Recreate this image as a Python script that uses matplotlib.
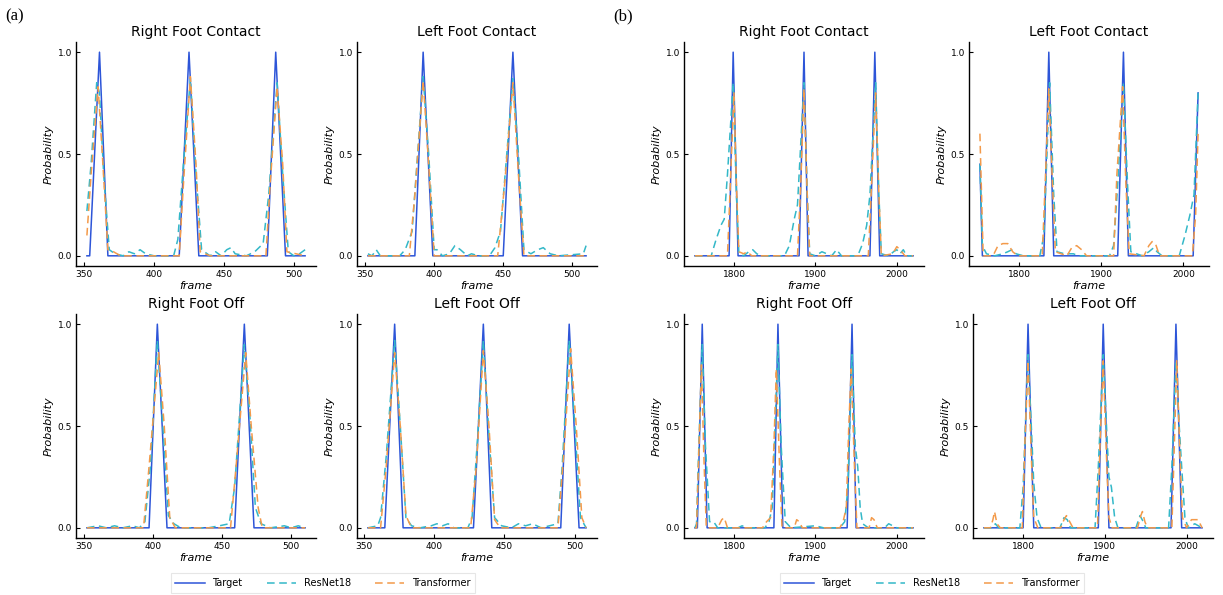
import matplotlib
matplotlib.use("Agg")
import matplotlib.pyplot as plt
from matplotlib.lines import Line2D

# ---- data: (frame, probability) ----
# panel (a)
A_RFC_T = [(352,0),(354,0),(361,1),(367,0),(418,0),(425,1),(432,0),(481,0),(487,1),(494,0),(508,0)]
A_RFC_R = [(352,0.22),(355,0.45),(359,0.85),(361,0.8),(364,0.4),(368,0.03),(372,0.01),(378,0.0),(382,0.02),
           (386,0.01),(390,0.03),(394,0.01),(400,0.0),(414,0.0),(417,0.08),(421,0.45),(426,0.87),(430,0.4),
           (434,0.03),(440,0.0),(444,0.02),(448,0.0),(452,0.03),(455,0.04),(458,0.01),(466,0.0),(472,0.02),
           (478,0.06),(482,0.3),(488,0.85),(492,0.4),(496,0.02),(500,0.0),(504,0.01),(508,0.03)]
A_RFC_X = [(352,0.1),(355,0.4),(360,0.83),(363,0.5),(367,0.03),(371,0.02),(376,0.0),(418,0.0),(421,0.35),
           (426,0.88),(430,0.45),(433,0.02),(440,0.0),(480,0.0),(483,0.35),(488,0.83),(492,0.45),(495,0.02),(508,0.0)]

A_LFC_T = [(352,0),(386,0),(392,1),(399,0),(450,0),(457,1),(464,0),(510,0)]
A_LFC_R = [(352,0.01),(355,0.0),(358,0.03),(361,0.0),(375,0.0),(379,0.03),(384,0.12),(392,0.88),(396,0.5),
           (400,0.03),(402,0.03),(406,0.0),(411,0.01),(415,0.05),(419,0.03),(424,0.0),(427,0.01),(432,0.0),
           (440,0.0),(444,0.04),(448,0.12),(457,0.87),(461,0.5),(465,0.03),(470,0.01),(475,0.03),(479,0.04),
           (484,0.01),(490,0.0),(508,0.01),(510,0.05)]
A_LFC_X = [(352,0.0),(382,0.0),(386,0.3),(392,0.86),(396,0.45),(400,0.0),(446,0.0),(451,0.35),(457,0.85),
           (461,0.4),(465,0.0),(510,0.0)]

A_RFO_T = [(352,0),(397,0),(403,1),(410,0),(459,0),(466,1),(473,0),(510,0)]
A_RFO_R = [(352,0.0),(360,0.01),(366,0.0),(372,0.01),(378,0.0),(385,0.01),(390,0.0),(394,0.03),(398,0.3),
           (403,0.92),(407,0.5),(411,0.06),(415,0.02),(420,0.0),(440,0.0),(448,0.01),(455,0.02),(459,0.2),
           (466,0.9),(470,0.55),(474,0.1),(478,0.02),(485,0.0),(495,0.01),(500,0.0),(505,0.01),(510,0.0)]
A_RFO_X = [(352,0.0),(393,0.0),(397,0.3),(404,0.86),(408,0.5),(412,0.05),(416,0.0),(456,0.0),(460,0.3),
           (467,0.86),(471,0.5),(476,0.1),(479,0.0),(510,0.0)]

A_LFO_T = [(353,0),(365,0),(372,1),(378,0),(428,0),(435,1),(441,0),(490,0),(496,1),(503,0),(508,0)]
A_LFO_R = [(353,0.0),(360,0.01),(362,0.05),(366,0.35),(372,0.92),(376,0.5),(380,0.05),(384,0.01),(390,0.0),
           (398,0.01),(402,0.02),(406,0.01),(410,0.02),(414,0.0),(424,0.0),(427,0.05),(431,0.45),(435,0.92),
           (439,0.45),(443,0.05),(448,0.01),(455,0.0),(460,0.02),(465,0.01),(470,0.02),(476,0.0),(488,0.02),
           (491,0.3),(496,0.92),(500,0.5),(504,0.05),(508,0.0)]
A_LFO_X = [(353,0.0),(362,0.0),(366,0.3),(372,0.86),(376,0.5),(380,0.06),(384,0.0),(426,0.0),(430,0.3),
           (435,0.87),(439,0.5),(443,0.04),(447,0.0),(488,0.0),(492,0.35),(497,0.88),(501,0.5),(505,0.05),(508,0.0)]

# panel (b)
B_RFC_T = [(1752,0),(1794,0),(1799,1),(1805,0),(1880,0),(1886,1),(1891,0),(1967,0),(1973,1),(1979,0),(2020,0)]
B_RFC_R = [(1752,0.0),(1772,0.0),(1778,0.08),(1784,0.15),(1788,0.18),(1792,0.4),(1799,0.85),(1803,0.3),
           (1806,0.01),(1812,0.0),(1818,0.02),(1823,0.03),(1828,0.01),(1834,0.0),(1862,0.0),(1868,0.05),
           (1874,0.18),(1878,0.25),(1886,0.85),(1890,0.3),(1893,0.01),(1900,0.0),(1908,0.02),(1914,0.01),
           (1920,0.0),(1926,0.03),(1932,0.0),(1952,0.0),(1958,0.06),(1963,0.15),(1967,0.3),(1974,0.85),
           (1978,0.3),(1981,0.01),(1990,0.0),(1996,0.02),(2000,0.03),(2004,0.01),(2008,0.03),(2012,0.0),(2020,0.0)]
B_RFC_X = [(1752,0.0),(1792,0.0),(1795,0.3),(1800,0.8),(1803,0.35),(1806,0.02),(1812,0.01),(1816,0.02),
           (1822,0.0),(1878,0.0),(1882,0.35),(1886,0.82),(1890,0.3),(1893,0.0),(1965,0.0),(1969,0.35),
           (1974,0.8),(1978,0.3),(1981,0.0),(1995,0.01),(2000,0.045),(2004,0.03),(2010,0.0),(2020,0.0)]

B_LFC_T = [(1752,0.45),(1755,0),(1830,0),(1836,1),(1842,0),(1920,0),(1927,1),(1933,0),(2012,0),(2018,0.8)]
B_LFC_R = [(1752,0.45),(1755,0.05),(1760,0.01),(1770,0.0),(1780,0.01),(1786,0.02),(1791,0.03),(1796,0.01),
           (1805,0.0),(1825,0.0),(1830,0.1),(1837,0.85),(1842,0.3),(1846,0.02),(1855,0.01),(1866,0.01),
           (1872,0.0),(1910,0.0),(1915,0.05),(1920,0.35),(1927,0.85),(1932,0.35),(1936,0.02),(1950,0.0),
           (1958,0.02),(1964,0.04),(1968,0.02),(1974,0.0),(1995,0.0),(2002,0.1),(2008,0.2),(2013,0.3),(2018,0.8)]
B_LFC_X = [(1752,0.6),(1756,0.0),(1768,0.0),(1774,0.05),(1780,0.06),(1786,0.06),(1792,0.02),(1798,0.0),
           (1828,0.0),(1832,0.4),(1836,0.82),(1840,0.4),(1844,0.02),(1858,0.0),(1864,0.04),(1870,0.05),
           (1876,0.03),(1882,0.0),(1915,0.0),(1919,0.4),(1926,0.83),(1930,0.35),(1934,0.01),(1952,0.0),
           (1958,0.05),(1962,0.07),(1966,0.06),(1971,0.0),(2011,0.0),(2015,0.2),(2018,0.6)]

B_RFO_T = [(1752,0),(1755,0),(1761,1),(1767,0),(1849,0),(1854,1),(1860,0),(1939,0),(1945,1),(1950,0),(2020,0)]
B_RFO_R = [(1752,0.0),(1754,0.02),(1756,0.3),(1761,0.9),(1765,0.4),(1768,0.18),(1770,0.03),(1775,0.03),
           (1780,0.0),(1805,0.0),(1810,0.01),(1815,0.0),(1838,0.0),(1843,0.03),(1847,0.1),(1854,0.9),
           (1858,0.4),(1860,0.25),(1863,0.03),(1870,0.0),(1900,0.01),(1910,0.0),(1930,0.0),(1936,0.03),
           (1940,0.2),(1945,0.85),(1949,0.4),(1952,0.3),(1955,0.1),(1958,0.02),(1965,0.0),(1985,0.0),
           (1990,0.02),(1995,0.01),(2000,0.0),(2020,0.0)]
B_RFO_X = [(1752,0.0),(1754,0.0),(1757,0.4),(1760,0.8),(1763,0.35),(1766,0.0),(1780,0.0),(1785,0.04),
           (1788,0.05),(1792,0.0),(1835,0.0),(1840,0.03),(1845,0.05),(1849,0.4),(1852,0.78),(1856,0.3),
           (1859,0.0),(1874,0.0),(1877,0.04),(1880,0.03),(1884,0.0),(1930,0.0),(1934,0.03),(1938,0.1),
           (1941,0.5),(1944,0.78),(1948,0.3),(1951,0.0),(1966,0.0),(1969,0.05),(1972,0.04),(1976,0.0),(2020,0.0)]

B_LFO_T = [(1752,0),(1800,0),(1806,1),(1813,0),(1892,0),(1898,1),(1905,0),(1981,0),(1987,1),(1994,0),(2019,0)]
B_LFO_R = [(1752,0.0),(1762,0.0),(1766,0.02),(1770,0.0),(1796,0.0),(1800,0.2),(1806,0.85),(1810,0.5),
           (1813,0.22),(1817,0.05),(1822,0.0),(1845,0.0),(1850,0.05),(1854,0.04),(1858,0.0),(1888,0.0),
           (1892,0.3),(1898,0.85),(1902,0.5),(1905,0.25),(1908,0.2),(1912,0.05),(1916,0.0),(1938,0.0),
           (1943,0.06),(1947,0.03),(1950,0.0),(1978,0.0),(1982,0.3),(1987,0.82),(1991,0.5),(1994,0.3),
           (1998,0.05),(2002,0.0),(2010,0.02),(2019,0.0)]
B_LFO_X = [(1752,0.0),(1760,0.0),(1763,0.04),(1765,0.08),(1768,0.02),(1772,0.0),(1799,0.0),(1802,0.4),
           (1806,0.82),(1810,0.35),(1813,0.05),(1818,0.0),(1846,0.0),(1850,0.04),(1853,0.06),(1857,0.03),
           (1861,0.0),(1891,0.0),(1894,0.4),(1898,0.82),(1902,0.35),(1905,0.05),(1909,0.0),(1940,0.0),
           (1944,0.06),(1946,0.08),(1949,0.03),(1952,0.0),(1982,0.0),(1985,0.4),(1988,0.82),(1992,0.35),
           (1995,0.05),(2000,0.0),(2006,0.04),(2014,0.04),(2019,0.0)]

TITLES = ["Right Foot Contact", "Left Foot Contact", "Right Foot Off", "Left Foot Off"]
SERIES = ["Target", "ResNet18", "Transformer"]
A_TICKS = [350, 400, 450, 500]
B_TICKS = [1800, 1900, 2000]

C_T, C_R, C_X = "#2d55d8", "#33b8c8", "#f39a4a"

fig = plt.figure(figsize=(12.23, 5.95), dpi=100)
W, H = 1223.0, 595.0

def make_ax(left, top, width=240, height=224):
    return fig.add_axes([left / W, 1 - (top + height) / H, width / W, height / H])

def draw(ax, title, tgt, res, trf, ticks):
    ax.plot([p[0] for p in tgt], [p[1] for p in tgt], color=C_T, lw=1.1, label=SERIES[0])
    ax.plot([p[0] for p in res], [p[1] for p in res], color=C_R, lw=1.1, ls=(0, (5, 3)), label=SERIES[1])
    ax.plot([p[0] for p in trf], [p[1] for p in trf], color=C_X, lw=1.1, ls=(0, (5, 3)), label=SERIES[2])
    ax.set_title(title, fontsize=10, pad=4)
    ax.set_xlabel("frame", fontsize=8, style="italic", labelpad=1)
    ax.set_ylabel("Probability", fontsize=8, style="italic", labelpad=3)
    ax.set_xticks(ticks)
    ax.set_yticks([0.0, 0.5, 1.0])
    ax.set_ylim(-0.05, 1.05)
    ax.tick_params(direction="in", length=3, labelsize=6.5, pad=3, width=0.8)
    for s in ["top", "right"]:
        ax.spines[s].set_visible(False)
    for s in ["left", "bottom"]:
        ax.spines[s].set_linewidth(1.0)

panels = [
    (76, 42, A_RFC_T, A_RFC_R, A_RFC_X, A_TICKS, 0),
    (357, 42, A_LFC_T, A_LFC_R, A_LFC_X, A_TICKS, 1),
    (76, 314, A_RFO_T, A_RFO_R, A_RFO_X, A_TICKS, 2),
    (357, 314, A_LFO_T, A_LFO_R, A_LFO_X, A_TICKS, 3),
    (684, 42, B_RFC_T, B_RFC_R, B_RFC_X, B_TICKS, 0),
    (969, 42, B_LFC_T, B_LFC_R, B_LFC_X, B_TICKS, 1),
    (684, 314, B_RFO_T, B_RFO_R, B_RFO_X, B_TICKS, 2),
    (973, 314, B_LFO_T, B_LFO_R, B_LFO_X, B_TICKS, 3),
]
for left, top, t, r, x, ticks, k in panels:
    ax = make_ax(left, top)
    draw(ax, TITLES[k], t, r, x, ticks)

handles = [Line2D([], [], color=C_T, lw=1.1),
           Line2D([], [], color=C_R, lw=1.1, ls=(0, (5, 3))),
           Line2D([], [], color=C_X, lw=1.1, ls=(0, (5, 3)))]
for cx in (323, 932):
    leg = fig.legend(handles, SERIES, loc="center", bbox_to_anchor=(cx / W, 1 - 583 / H),
                     ncol=3, fontsize=7, frameon=True, fancybox=False, handlelength=3,
                     columnspacing=2.5, borderpad=0.5)
    leg.get_frame().set_edgecolor("#e0e0e0")
    leg.get_frame().set_linewidth(0.8)

fig.text(5 / W, 1 - 16 / H, "(a)", fontsize=12, family="Liberation Serif", va="center")
fig.text(613 / W, 1 - 16 / H, "(b)", fontsize=12, family="Liberation Serif", va="center")

fig.savefig("out.png", dpi=100)
